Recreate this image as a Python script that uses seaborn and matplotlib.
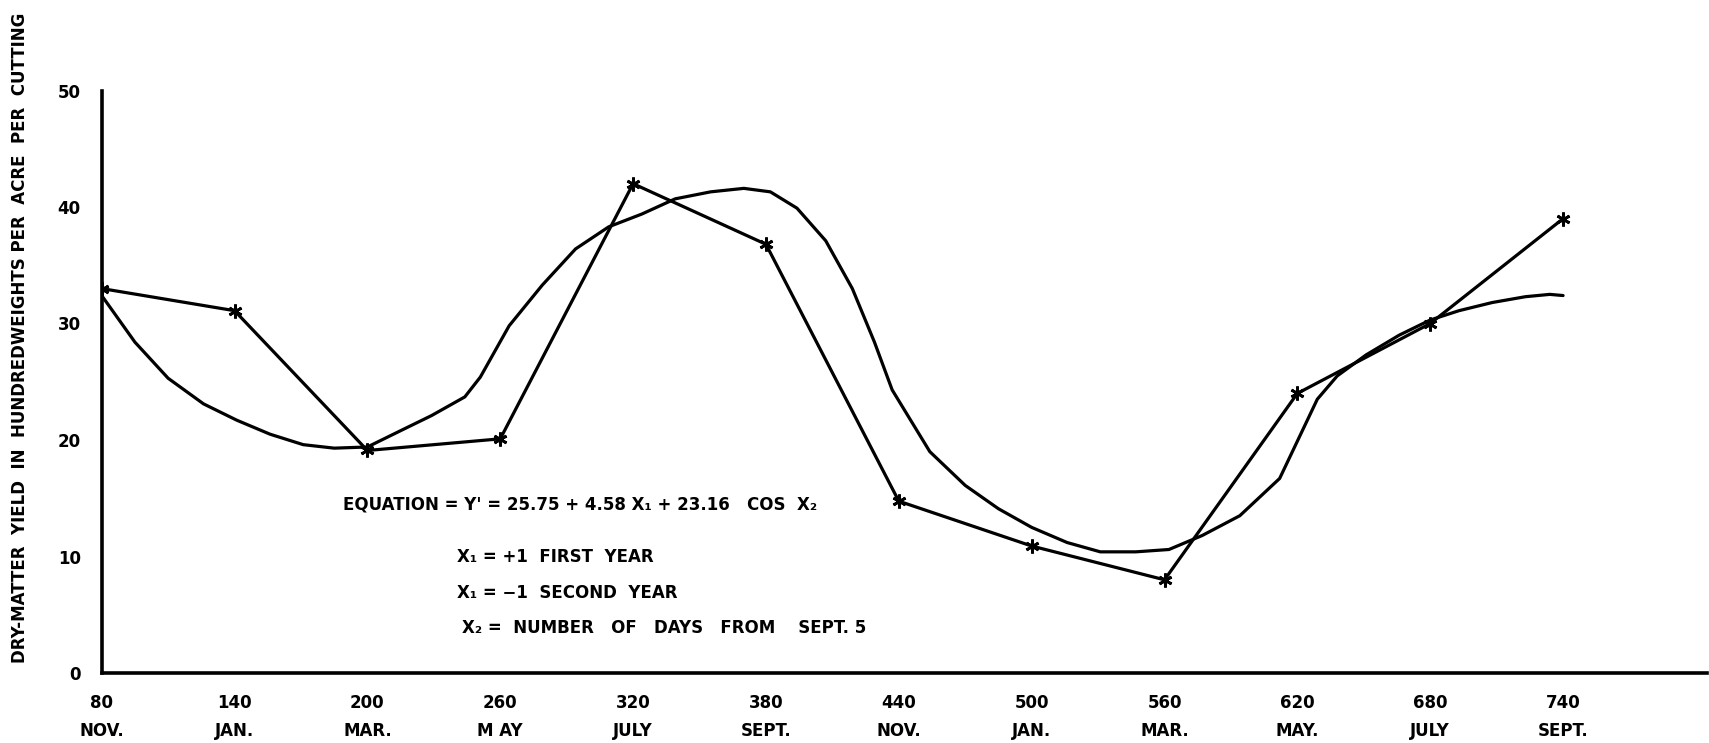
import numpy as np
import pandas as pd
import matplotlib
matplotlib.use("Agg")
import matplotlib.pyplot as plt
import seaborn as sns

# observed cuttings (days from Sept. 5) and dry-matter yield
cut_days = [80, 140, 200, 260, 320, 380, 440, 500, 560, 620, 680, 740]
cut_yield = [33.0, 31.1, 19.1, 20.1, 42.0, 36.8, 14.75, 10.9, 8.0, 24.0, 30.0, 39.0]
months = ["NOV.", "JAN.", "MAR.", "M AY", "JULY", "SEPT.", "NOV.", "JAN.", "MAR.", "MAY.", "JULY", "SEPT."]

# fitted regression curve
fit_days = [80, 95, 110, 126, 141, 156, 171, 185, 200, 215, 229, 244, 251, 264,
            279, 294, 309, 324, 339, 355, 370, 382, 394, 407, 419, 429, 437, 454,
            470, 485, 500, 516, 531, 547, 562, 577, 594, 612, 622, 629, 638, 651,
            666, 680, 693, 708, 723, 734, 740]
fit_yield = [32.4, 28.4, 25.3, 23.1, 21.7, 20.5, 19.6, 19.3, 19.4, 20.8, 22.1, 23.7,
             25.4, 29.8, 33.3, 36.4, 38.3, 39.4, 40.7, 41.3, 41.6, 41.3, 39.9, 37.1,
             33.0, 28.4, 24.3, 19.0, 16.1, 14.1, 12.5, 11.2, 10.4, 10.4, 10.6, 11.8,
             13.5, 16.7, 20.7, 23.5, 25.5, 27.3, 29.0, 30.3, 31.1, 31.8, 32.3, 32.5, 32.4]

obs = pd.DataFrame({"day": cut_days, "yield": cut_yield})
fit = pd.DataFrame({"day": fit_days, "yield": fit_yield})

sns.set_style("white")
plt.rcParams["font.family"] = ["DejaVu Sans"]
plt.rcParams["font.weight"] = "bold"
plt.rcParams["text.color"] = "black"
plt.rcParams["xtick.color"] = "black"
plt.rcParams["ytick.color"] = "black"
plt.rcParams["axes.labelcolor"] = "black"

fig = plt.figure(figsize=(17.09, 7.43), dpi=100)
ax = fig.add_axes([101.7 / 1709, 70 / 743, 1605.3 / 1709, 582.5 / 743])

sns.lineplot(data=fit, x="day", y="yield", ax=ax, color="black", lw=2.3,
             sort=False, estimator=None)
sns.lineplot(data=obs, x="day", y="yield", ax=ax, color="black", lw=2.3,
             sort=False, estimator=None, marker=(6, 2, 0), markersize=10,
             markeredgewidth=2.0, markeredgecolor="black")

ax.set_xlim(80, 805)
ax.set_ylim(0, 50)

ax.set_xticks(cut_days)
ax.set_xticklabels([f"{d}\n{m}" for d, m in zip(cut_days, months)],
                   fontsize=12, fontweight="bold", linespacing=1.75)
ax.set_yticks(range(0, 51, 10))
ax.set_yticks(range(5, 50, 10), minor=True)
ax.set_yticklabels([str(v) for v in range(0, 51, 10)], fontsize=12, fontweight="bold")

ax.tick_params(axis="both", which="major", direction="out", length=9, width=2.2,
               colors="black", pad=6)
ax.tick_params(axis="y", which="minor", direction="out", length=8, width=2.2,
               colors="black")

sns.despine(ax=ax)
for side in ["left", "bottom"]:
    ax.spines[side].set_linewidth(2.6)
    ax.spines[side].set_color("black")
ax.set_xlabel("")
ax.set_ylabel("")

fig.text(20 / 1709, 1 - 338 / 743,
         "DRY-MATTER  YIELD  IN  HUNDREDWEIGHTS PER  ACRE  PER  CUTTING",
         rotation=90, ha="center", va="center", fontsize=12, fontweight="bold")

ax.text(189, 14.5, "EQUATION = Y' = 25.75 + 4.58 X\u2081 + 23.16   COS  X\u2082",
        fontsize=12, fontweight="bold", va="center", ha="left")
ax.text(240.5, 10.0, "X\u2081 = +1  FIRST  YEAR", fontsize=12, fontweight="bold", va="center")
ax.text(240.5, 6.9, "X\u2081 = \u22121  SECOND  YEAR", fontsize=12, fontweight="bold", va="center")
ax.text(242.5, 3.9, "X\u2082 =  NUMBER   OF   DAYS   FROM    SEPT. 5", fontsize=12,
        fontweight="bold", va="center")

fig.savefig("out.png", dpi=100)
